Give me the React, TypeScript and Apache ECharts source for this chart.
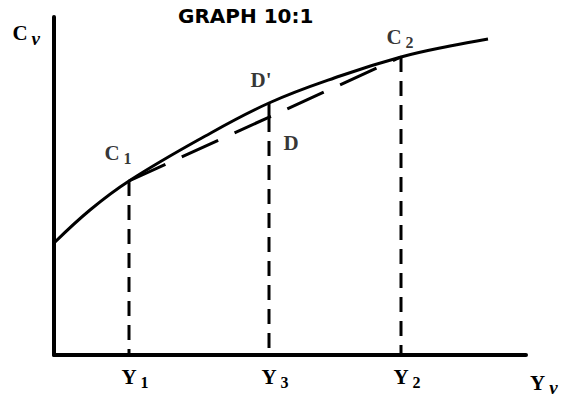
import React, { useEffect, useRef } from "react";
import * as echarts from "echarts";

// Curve C(ν) = f(Y(ν)) (x: 0..472, y: 0..338 units)
const curveX = [0, 36, 75, 146, 215, 286, 347, 396, 434];
const curveY = [112, 145, 174, 216, 252, 279, 298, 309, 316];

// Chord from C1 to C2
const chordX = [75, 347];
const chordY = [174, 298];

// Vertical drop lines at Y1, Y3, Y2
const dropX = [75, 215, 347];
const dropTop = [174, 238, 298];
const dropSub = ["1", "3", "2"];

// Small solid tick from D' down to D
const tickX = [215, 215];
const tickY = [252, 238];

// Labelled points
const pointNames = ["C1", "C2", "D'", "D"];
const pointX = [75, 347, 215, 215];
const pointY = [174, 298, 252, 238];
const pointMain = ["C", "C", "D'", "D"];
const pointSub = ["1", "2", "", ""];

const titleText = "GRAPH 10:1";
const xName = { main: "Y", sub: "ν" };
const yName = { main: "C", sub: "ν" };

const SERIF = "'Liberation Serif', 'DejaVu Serif', serif";

const rich = {
  m: { fontFamily: SERIF, fontWeight: "bold" as const, fontSize: 21, color: "#000", padding: [0, 4, 0, 0] },
  s: { fontFamily: SERIF, fontWeight: "bold" as const, fontSize: 16, color: "#000", padding: [10, 0, 0, 0] },
  g: { fontFamily: SERIF, fontWeight: "bold" as const, fontStyle: "italic" as const, fontSize: 19, color: "#000", padding: [10, 0, 0, 0] },
};

const labelOffsets: Record<string, number[]> = {
  C1: [-11, -28],
  C2: [-1, -20],
  "D'": [-6, -23],
  D: [24, 26],
};

export default function App() {
  const ref = useRef<HTMLDivElement>(null);
  useEffect(() => {
    if (!ref.current) return;
    const chart = echarts.init(ref.current, undefined, { renderer: "svg" });
    const black = "#000";
    const dropSeries = dropX.map((x, i) => ({
      type: "line" as const,
      name: "drop" + i,
      data: [
        [x, dropTop[i]],
        [x, 0],
      ],
      showSymbol: false,
      symbol: "none",
      lineStyle: { color: black, width: 3, type: [15, 9] },
      silent: true,
      z: 2,
    }));
    chart.setOption({
      animation: false,
      backgroundColor: "#fff",
      title: {
        text: titleText,
        left: 178,
        top: 6,
        padding: 0,
        textStyle: { fontFamily: "'DejaVu Sans', sans-serif", fontWeight: "bold", fontSize: 20, color: black },
      },
      grid: { left: 54, right: 35, top: 17, bottom: 42, containLabel: false },
      xAxis: {
        type: "value",
        min: 0,
        max: 472,
        name: `{m|${xName.main}}{g|${xName.sub}}`,
        nameLocation: "end",
        nameGap: 4,
        nameTextStyle: { align: "left", verticalAlign: "top", padding: [13, 0, 0, 0], rich },
        axisLine: { show: true, lineStyle: { color: black, width: 4 } },
        axisTick: { show: false },
        splitLine: { show: false },
        axisLabel: {
          show: true,
          customValues: dropX,
          margin: 9,
          formatter: (v: number) => {
            const i = dropX.indexOf(v);
            return `{m|Y}{s|${dropSub[i] ?? ""}}`;
          },
          padding: [0, 0, 0, 12],
          rich,
        },
      },
      yAxis: {
        type: "value",
        min: 0,
        max: 338,
        name: `{m|${yName.main}}{g|${yName.sub}}`,
        nameLocation: "end",
        nameGap: -16,
        nameTextStyle: { align: "right", verticalAlign: "middle", padding: [0, 14, 0, 0], rich },
        axisLine: { show: true, lineStyle: { color: black, width: 4 } },
        axisTick: { show: false },
        splitLine: { show: false },
        axisLabel: { show: false },
      },
      series: [
        {
          type: "line",
          name: "curve",
          data: curveX.map((x, i) => [x, curveY[i]]),
          smooth: 0.4,
          showSymbol: false,
          symbol: "none",
          lineStyle: { color: black, width: 3 },
          z: 3,
        },
        {
          type: "line",
          name: "chord",
          data: chordX.map((x, i) => [x, chordY[i]]),
          showSymbol: false,
          symbol: "none",
          lineStyle: { color: black, width: 3, type: [40, 18] },
          z: 3,
        },
        ...dropSeries,
        {
          type: "line",
          name: "tick",
          data: tickX.map((x, i) => [x, tickY[i]]),
          showSymbol: false,
          symbol: "none",
          lineStyle: { color: black, width: 3 },
          z: 3,
        },
        {
          type: "scatter",
          name: "points",
          clip: false,
          symbolSize: 1,
          itemStyle: { color: "rgba(0,0,0,0)" },
          data: pointNames.map((n, i) => ({
            name: n,
            value: [pointX[i], pointY[i]],
            label: {
              show: true,
              position: "inside",
              offset: labelOffsets[n],
              formatter: pointSub[i] ? `{m|${pointMain[i]}}{s|${pointSub[i]}}` : `{m|${pointMain[i]}}`,
              rich,
            },
          })),
          z: 5,
        },
      ],
    });
    return () => chart.dispose();
  }, []);
  return <div ref={ref} style={{ position: "fixed", left: 0, top: 0, width: 561, height: 397 }} />;
}
